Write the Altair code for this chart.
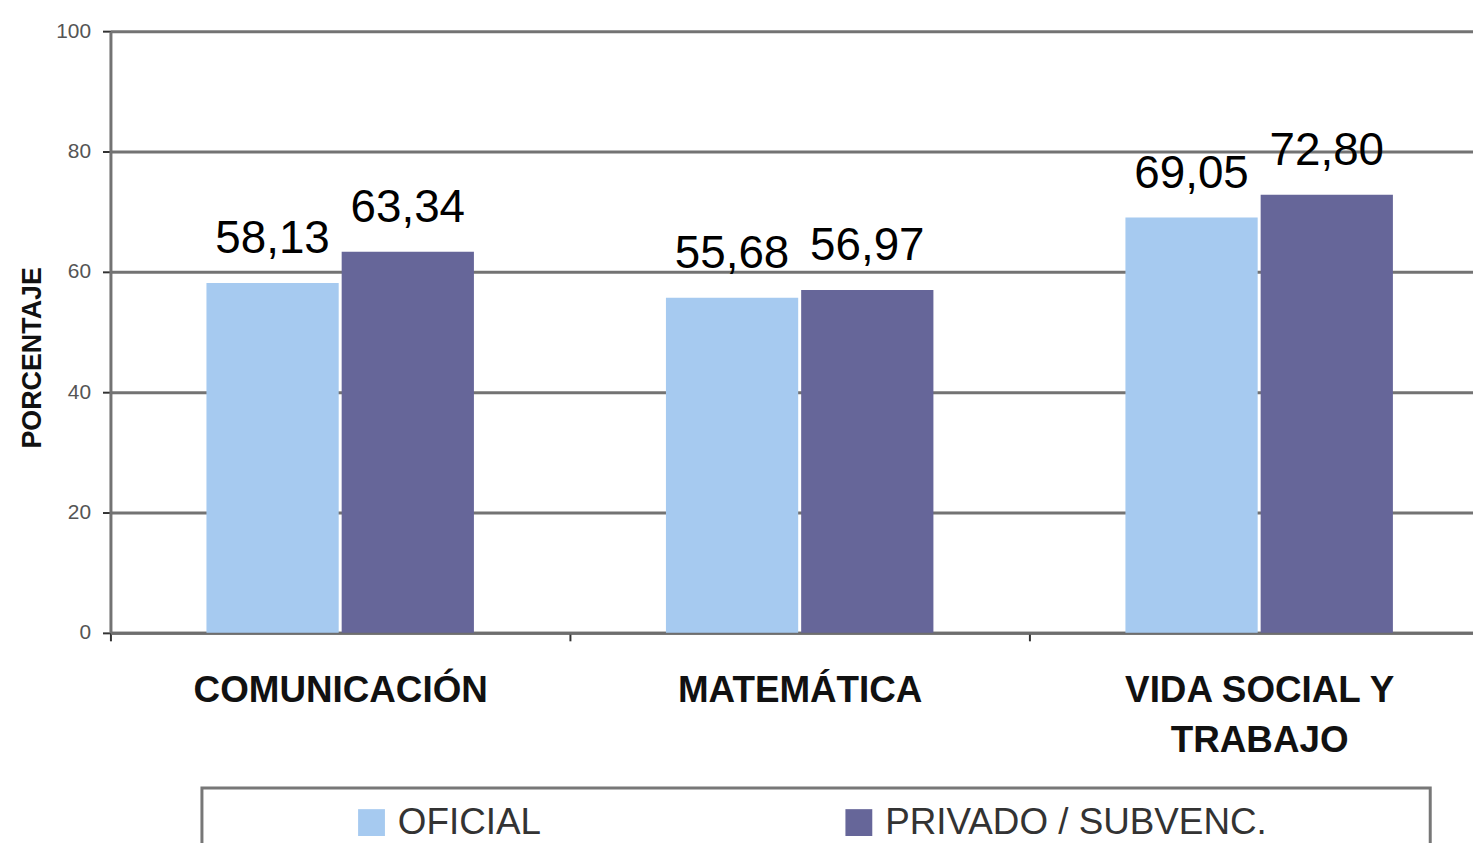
import altair as alt
import pandas as pd

categories = ["COMUNICACIÓN", "MATEMÁTICA", "VIDA SOCIAL Y TRABAJO"]
series = ["OFICIAL", "PRIVADO / SUBVENC."]
oficial = [58.13, 55.68, 69.05]
privado = [63.34, 56.97, 72.80]
y_ticks = [0, 20, 40, 60, 80, 100]
colors = ["#A6CAF0", "#666699"]

rows = []
for c, a, b in zip(categories, oficial, privado):
    rows.append({"cat": c, "serie": series[0], "value": a})
    rows.append({"cat": c, "serie": series[1], "value": b})
df = pd.DataFrame(rows)

FONT = "Liberation Sans"

x_enc = alt.X(
    "cat:N",
    sort=categories,
    title=None,
    scale=alt.Scale(paddingInner=0, paddingOuter=0, range=[0, 1386]),
    axis=alt.Axis(
        labelAngle=0,
        labelLimit=0,
        tickBand="extent",
        tickSize=8,
        tickWidth=2,
        tickColor="#333333",
        domainColor="#6e6e6e",
        domainWidth=3,
        labelFont=FONT,
        labelFontSize=37,
        labelFontWeight="bold",
        labelColor="#111111",
        labelPadding=32,
        labelLineHeight=50,
        labelExpr="datum.label == 'VIDA SOCIAL Y TRABAJO' ? ['VIDA SOCIAL Y', 'TRABAJO'] : datum.label",
    ),
)

y_enc = alt.Y(
    "value:Q",
    scale=alt.Scale(domain=[0, 100], nice=False),
    axis=alt.Axis(
        values=y_ticks,
        title="PORCENTAJE",
        titleFont=FONT,
        titleFontSize=27,
        titleFontWeight="bold",
        titleColor="#111111",
        titleX=-64,
        titleY=328,
        grid=True,
        gridColor="#737373",
        gridWidth=3,
        domainColor="#737373",
        domainWidth=3,
        tickSize=8,
        tickWidth=2,
        tickColor="#333333",
        labelFont=FONT,
        labelFontSize=21,
        labelColor="#555555",
        labelPadding=12,
    ),
)

xo = alt.XOffset(
    "serie:N",
    sort=series,
    scale=alt.Scale(paddingInner=0.022, paddingOuter=0.71),
)

bars = alt.Chart(df).mark_bar().encode(
    x=x_enc,
    xOffset=xo,
    y=y_enc,
    color=alt.Color(
        "serie:N",
        sort=series,
        scale=alt.Scale(domain=series, range=colors),
        legend=alt.Legend(
            title=" ",
            titleOrient="right",
            titlePadding=148,
            titleFontSize=10,
            orient="none",
            legendX=92,
            legendY=761,
            direction="horizontal",
            symbolType="square",
            symbolSize=729,
            symbolStrokeWidth=0,
            symbolOffset=136,
            labelFont=FONT,
            labelFontSize=37,
            labelColor="#333333",
            labelOffset=8,
            labelLimit=0,
            columnPadding=165,
            padding=16,
            strokeColor="#777777",
            fillColor="#ffffff",
        ),
    ),
)

labels = alt.Chart(df).transform_calculate(
    txt="replace(format(datum.value, '.2f'), '.', ',')"
).mark_text(
    baseline="bottom", dy=-20, font=FONT, fontSize=46, color="#000000"
).encode(
    x=alt.X("cat:N", sort=categories),
    xOffset=alt.XOffset("serie:N", sort=series),
    y=alt.Y("value:Q"),
    text="txt:N",
)

chart = (
    alt.layer(bars, labels)
    .properties(
        width=1370,
        height=605,
        autosize=alt.AutoSizeParams(type="none"),
        padding={"left": 103, "top": 21, "right": 0, "bottom": 209},
        background="white",
    )
    .configure_view(stroke=None)
    .configure_legend(strokeWidth=3)
)

chart.save("out.html", embed_options={"renderer": "svg", "actions": False})
